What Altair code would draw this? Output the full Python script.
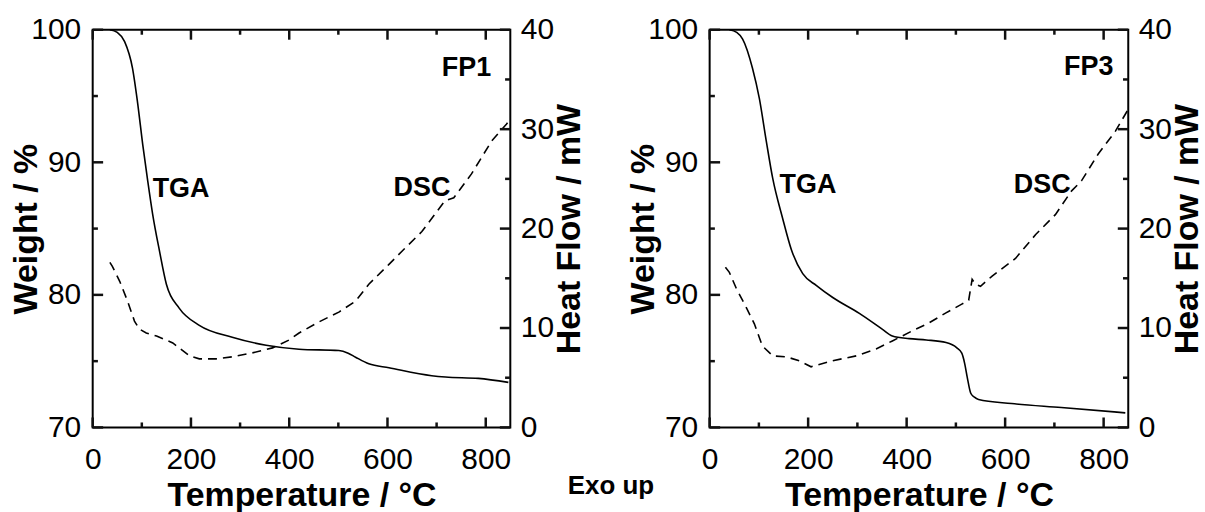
import altair as alt
import pandas as pd

# ---------------- data ----------------
fp1_tga_temp = [35, 50, 65, 81, 91, 102, 112, 122, 136, 150, 176, 217, 284, 353, 420, 501, 520, 535, 562, 603, 690, 718, 785, 846]
fp1_tga_weight = [100.0, 99.8, 99.1, 97.1, 94.6, 91.3, 88.6, 86.1, 83.3, 80.8, 79.0, 77.7, 76.8, 76.2, 75.9, 75.8, 75.6, 75.3, 74.8, 74.5, 73.9, 73.8, 73.7, 73.4]

fp1_dsc_temp = [35, 40, 55, 71, 85, 95, 109, 130, 163, 197, 217, 251, 284, 325, 366, 400, 420, 460, 501, 535, 562, 603, 629, 670, 717, 735, 771, 812, 842, 850]
fp1_dsc_heat = [16.6, 16.2, 14.7, 12.7, 10.7, 9.9, 9.5, 9.2, 8.5, 7.2, 6.9, 6.9, 7.1, 7.5, 8.0, 8.8, 9.5, 10.6, 11.6, 12.7, 14.4, 16.4, 17.7, 19.7, 22.8, 23.1, 25.5, 28.8, 30.5, 31.0]

fp3_tga_temp = [40, 55, 67, 87, 101, 115, 128, 148, 166, 189, 217, 250, 304, 351, 371, 405, 440, 480, 502, 512, 518, 523, 530, 537, 546, 613, 714, 844]
fp3_tga_weight = [100.0, 99.8, 99.3, 97.1, 94.8, 91.6, 88.8, 85.8, 83.4, 81.6, 80.7, 79.8, 78.6, 77.4, 76.9, 76.7, 76.6, 76.4, 76.0, 75.6, 74.8, 73.8, 72.6, 72.3, 72.1, 71.8, 71.5, 71.1]

fp3_dsc_temp = [32, 40, 54, 75, 91, 107, 128, 156, 182, 206, 249, 298, 338, 371, 411, 445, 479, 512, 526, 533, 540, 550, 573, 621, 662, 702, 735, 755, 789, 824, 844, 850]
fp3_dsc_heat = [16.1, 15.6, 14.0, 12.0, 10.4, 8.2, 7.2, 7.1, 6.7, 6.1, 6.7, 7.2, 7.9, 8.7, 9.7, 10.5, 11.5, 12.4, 12.8, 14.9, 14.4, 14.2, 15.2, 17.0, 19.4, 21.4, 23.8, 24.8, 27.5, 29.8, 31.5, 32.0]

# axis domains and tick values
t_domain = [0, 850]
w_domain = [70, 100]
h_domain = [0, 40]
x_major = [0, 200, 400, 600, 800]
x_minor = [100, 300, 500, 700]
w_major = [70, 80, 90, 100]
w_minor = [75, 85, 95]
h_major = [0, 10, 20, 30, 40]
h_minor = [5, 15, 25, 35]

panel_names = ["FP1", "FP3"]
tga_label_pos = [(122, 87.4), (142, 87.7)]
dsc_label_pos = [(728, 23.3), (733, 23.6)]
name_label_pos = [(811, 35.3), (820, 35.4)]
exo_text = "Exo up"

# ---------------- styling ----------------
FONT = "Liberation Sans"
TICK_FS = 30
TITLE_FS = 34
LABEL_FS = 27
PLOT_H = 399
TICK_COLOR = "#111111"
# tick lengths as fractions of each axis span (major ~10 px, minor ~5 px)
MAJ = 0.025
MIN = 0.0125

xscale = alt.Scale(domain=t_domain, nice=False, zero=False)
wscale = alt.Scale(domain=w_domain, nice=False, zero=False)
hscale = alt.Scale(domain=h_domain, nice=False, zero=False)

title_kw = dict(titleFont=FONT, titleFontSize=TITLE_FS, titleFontWeight="bold",
                titleColor="black", titleBaseline="alphabetic")


def label_axis(orient, values, pad, **kw):
    return alt.Axis(orient=orient, values=values, ticks=True, tickSize=0, tickWidth=0,
                    domain=False, grid=False, labelFont=FONT, labelFontSize=TICK_FS,
                    labelColor="black", labelFlush=False, labelOverlap=False,
                    labelPadding=pad, **title_kw, **kw)


def rule_layer(t1, t2, v1, v2, yscale):
    df = pd.DataFrame({"t": t1, "t2": t2, "v": v1, "v2": v2})
    return alt.Chart(df).mark_rule(color=TICK_COLOR, strokeWidth=2.5).encode(
        x=alt.X("t:Q", scale=xscale, axis=None),
        x2="t2:Q",
        y=alt.Y("v:Q", scale=yscale, axis=None),
        y2="v2:Q",
    )


def frame_ticks():
    tspan = t_domain[1] - t_domain[0]
    wspan = w_domain[1] - w_domain[0]
    out = []
    for vals, frac in ((x_major, MAJ), (x_minor, MIN)):
        n = len(vals)
        out.append(rule_layer(vals, vals, [w_domain[0]] * n, [w_domain[0] + frac * wspan] * n, wscale))
        out.append(rule_layer(vals, vals, [w_domain[1]] * n, [w_domain[1] - frac * wspan] * n, wscale))
    for vals, frac in ((w_major, MAJ), (w_minor, MIN)):
        n = len(vals)
        out.append(rule_layer([t_domain[0]] * n, [t_domain[0] + frac * tspan] * n, vals, vals, wscale))
    for vals, frac in ((h_major, MAJ), (h_minor, MIN)):
        n = len(vals)
        out.append(rule_layer([t_domain[1]] * n, [t_domain[1] - frac * tspan] * n, vals, vals, hscale))
    return out


def panel(tga_t, tga_w, dsc_t, dsc_h, idx, width):
    tga = pd.DataFrame({"t": tga_t, "w": tga_w})
    dsc = pd.DataFrame({"t": dsc_t, "h": dsc_h})

    tga_line = alt.Chart(tga).mark_line(color="black", strokeWidth=1.6, interpolate="monotone").encode(
        x=alt.X("t:Q", scale=xscale, title="Temperature / °C",
                axis=label_axis("bottom", x_major, 17, titleY=78)),
        y=alt.Y("w:Q", scale=wscale, title="Weight / %",
                axis=label_axis("left", w_major, 12, titleAngle=270, titleX=-56)),
    )
    dsc_line = alt.Chart(dsc).mark_line(color="black", strokeWidth=1.6, strokeDash=[9, 6]).encode(
        x=alt.X("t:Q", scale=xscale, axis=None),
        y=alt.Y("h:Q", scale=hscale, title="Heat Flow / mW",
                axis=label_axis("right", h_major, 10, titleAngle=270, titleX=69)),
    )
    text_kw = dict(font=FONT, fontWeight="bold", fontSize=LABEL_FS, color="black", baseline="alphabetic")
    tga_lab = alt.Chart(pd.DataFrame({"t": [tga_label_pos[idx][0]], "w": [tga_label_pos[idx][1]], "s": ["TGA"]})).mark_text(
        align="left", **text_kw).encode(
        x=alt.X("t:Q", scale=xscale, axis=None),
        y=alt.Y("w:Q", scale=wscale, axis=None),
        text="s:N",
    )
    dsc_lab = alt.Chart(pd.DataFrame({"t": [dsc_label_pos[idx][0]], "h": [dsc_label_pos[idx][1]], "s": ["DSC"]})).mark_text(
        align="right", **text_kw).encode(
        x=alt.X("t:Q", scale=xscale, axis=None),
        y=alt.Y("h:Q", scale=hscale, axis=None),
        text="s:N",
    )
    name_lab = alt.Chart(pd.DataFrame({"t": [name_label_pos[idx][0]], "h": [name_label_pos[idx][1]], "s": [panel_names[idx]]})).mark_text(
        align="right", **text_kw).encode(
        x=alt.X("t:Q", scale=xscale, axis=None),
        y=alt.Y("h:Q", scale=hscale, axis=None),
        text="s:N",
    )
    layers = [tga_line, dsc_line, tga_lab, dsc_lab, name_lab] + frame_ticks()
    return alt.layer(*layers).resolve_scale(y="independent").resolve_axis(
        x="independent", y="independent").properties(width=width, height=PLOT_H)


p1 = panel(fp1_tga_temp, fp1_tga_weight, fp1_dsc_temp, fp1_dsc_heat, 0, 419)
p2 = panel(fp3_tga_temp, fp3_tga_weight, fp3_dsc_temp, fp3_dsc_heat, 1, 420)

chart = alt.hconcat(p1, p2, spacing=39).properties(
    title=alt.TitleParams(text=exo_text, orient="bottom", anchor="middle", frame="bounds",
                          offset=-19, dx=4, baseline="alphabetic", font=FONT, fontSize=26,
                          fontWeight="bold", color="black"),
    padding={"left": 9, "top": 13, "right": 0, "bottom": 0},
    background="white",
).configure_view(stroke="black", strokeWidth=2)

chart.save("out.html", embed_options={"renderer": "svg", "actions": False})
